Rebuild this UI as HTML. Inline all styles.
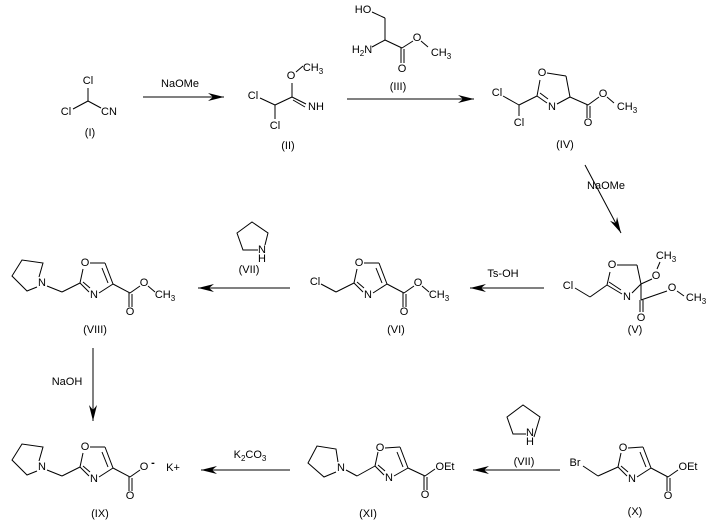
<!DOCTYPE html>
<html><head><meta charset="utf-8"><style>
html,body{margin:0;padding:0;background:#fff;}
svg{display:block;}
text{font-family:"Liberation Sans",sans-serif;font-size:11px;fill:#000;}
line,polyline,polygon.r{stroke:#000;stroke-width:1;fill:none;}
</style></head><body>
<svg width="711" height="529" viewBox="0 0 711 529" xmlns="http://www.w3.org/2000/svg">
<defs>
<marker id="ah" markerUnits="userSpaceOnUse" markerWidth="18" markerHeight="10" refX="16" refY="5" orient="auto">
<path d="M0,1 L16,5 L0,9 L5,5 z" fill="#000"/>
</marker>
</defs>
<g text-anchor="middle" dominant-baseline="central">

<!-- (I) -->
<text x="88" y="81">Cl</text>
<text x="66" y="112">Cl</text>
<text x="109" y="112">CN</text>
<line x1="88" y1="88" x2="88" y2="101"/>
<line x1="88" y1="101" x2="73" y2="109"/>
<line x1="88" y1="101" x2="101" y2="108"/>
<text x="90" y="133">(I)</text>

<!-- arrow 1 -->
<line x1="143" y1="97" x2="224" y2="97" marker-end="url(#ah)"/>
<text x="180" y="84">NaOMe</text>

<!-- (II) -->
<text x="291" y="76">O</text>
<text x="313" y="68">CH<tspan font-size="8" dy="3">3</tspan></text>
<text x="316" y="107">NH</text>
<text x="253" y="96">Cl</text>
<text x="275" y="126">Cl</text>
<line x1="292" y1="83" x2="292" y2="97"/>
<line x1="296" y1="72" x2="303" y2="66"/>
<line x1="292" y1="97" x2="306" y2="104"/>
<line x1="293" y1="100" x2="305" y2="107"/>
<line x1="292" y1="97" x2="275" y2="105"/>
<line x1="275" y1="105" x2="260" y2="98"/>
<line x1="275" y1="105" x2="275" y2="119"/>
<text x="288" y="146">(II)</text>

<!-- (III) -->
<text x="363" y="10">HO</text>
<line x1="372" y1="12" x2="385" y2="18"/>
<line x1="385" y1="18" x2="385" y2="40"/>
<text x="362" y="50">H<tspan font-size="8" dy="3">2</tspan><tspan dy="-3">N</tspan></text>
<line x1="372" y1="47" x2="385" y2="40"/>
<line x1="385" y1="40" x2="402" y2="48"/>
<line x1="401" y1="48" x2="401" y2="63"/>
<line x1="404" y1="49" x2="404" y2="63"/>
<text x="402" y="69">O</text>
<line x1="402" y1="48" x2="413" y2="41"/>
<text x="417" y="38">O</text>
<line x1="421" y1="41" x2="428" y2="47"/>
<text x="441" y="53">CH<tspan font-size="8" dy="3">3</tspan></text>
<text x="398" y="87">(III)</text>

<!-- arrow 2 -->
<line x1="347" y1="99" x2="474" y2="99" marker-end="url(#ah)"/>

<!-- (IV) -->
<text x="497" y="93">Cl</text>
<text x="519" y="123">Cl</text>
<line x1="503" y1="96" x2="519" y2="105"/>
<line x1="519" y1="105" x2="519" y2="116"/>
<line x1="519" y1="105" x2="537" y2="96"/>
<text x="542" y="73">O</text>
<line x1="537" y1="96" x2="540" y2="80"/>
<line x1="547" y1="73" x2="566" y2="76"/>
<line x1="566" y1="76" x2="570" y2="97"/>
<line x1="570" y1="97" x2="557" y2="104"/>
<text x="552" y="107">N</text>
<line x1="547" y1="103" x2="537" y2="96"/>
<line x1="548" y1="99" x2="540" y2="93"/>
<line x1="570" y1="97" x2="588" y2="105"/>
<line x1="587" y1="105" x2="587" y2="118"/>
<line x1="590" y1="106" x2="590" y2="118"/>
<text x="588" y="123">O</text>
<line x1="588" y1="105" x2="599" y2="97"/>
<text x="603" y="94">O</text>
<line x1="607" y1="97" x2="614" y2="103"/>
<text x="627" y="107">CH<tspan font-size="8" dy="3">3</tspan></text>
<text x="565" y="145">(IV)</text>

<!-- arrow 3 -->
<line x1="585" y1="165" x2="621" y2="233" marker-end="url(#ah)"/>
<text x="606" y="186">NaOMe</text>

<!-- (V) -->
<text x="568" y="286">Cl</text>
<line x1="575" y1="288" x2="590" y2="297"/>
<line x1="590" y1="297" x2="607" y2="285"/>
<text x="612" y="265">O</text>
<line x1="607" y1="285" x2="610" y2="272"/>
<line x1="617" y1="265" x2="637" y2="265"/>
<line x1="637" y1="265" x2="641" y2="284"/>
<line x1="641" y1="284" x2="632" y2="293"/>
<text x="627" y="297">N</text>
<line x1="622" y1="294" x2="607" y2="285"/>
<line x1="621" y1="290" x2="609" y2="282"/>
<line x1="641" y1="284" x2="652" y2="279"/>
<text x="656" y="276">O</text>
<line x1="657" y1="269" x2="660" y2="262"/>
<text x="666" y="256">CH<tspan font-size="8" dy="3">3</tspan></text>
<line x1="641" y1="284" x2="641" y2="300"/>
<line x1="640" y1="300" x2="640" y2="312"/>
<line x1="643" y1="300" x2="643" y2="312"/>
<text x="641" y="318">O</text>
<line x1="641" y1="300" x2="667" y2="291"/>
<text x="672" y="288">O</text>
<line x1="677" y1="291" x2="684" y2="296"/>
<text x="696" y="298">CH<tspan font-size="8" dy="3">3</tspan></text>
<text x="635" y="330">(V)</text>

<!-- Ts-OH arrow -->
<line x1="544" y1="288" x2="470" y2="288" marker-end="url(#ah)"/>
<text x="503" y="274">Ts-OH</text>

<!-- (VI) -->
<g transform="translate(354,283)">
<text x="-39" y="-1">Cl</text>
<line x1="-33" y1="1" x2="-18" y2="9"/>
<line x1="-18" y1="9" x2="0" y2="0"/>
<line x1="0" y1="0" x2="3" y2="-14"/>
<text x="5" y="-20">O</text>
<line x1="10" y1="-20" x2="25" y2="-20"/>
<line x1="25" y1="-20" x2="33" y2="1"/>
<line x1="22" y1="-15" x2="28" y2="0"/>
<line x1="33" y1="1" x2="19" y2="10"/>
<text x="14" y="12">N</text>
<line x1="9" y1="9" x2="0" y2="0"/>
<line x1="10" y1="5" x2="3" y2="-1"/>
<line x1="33" y1="1" x2="50" y2="10"/>
<line x1="49" y1="10" x2="49" y2="24"/>
<line x1="52" y1="11" x2="52" y2="24"/>
<text x="50" y="29">O</text>
<line x1="50" y1="10" x2="60" y2="3"/>
<text x="64" y="0">O</text>
<line x1="68" y1="3" x2="75" y2="9"/>
<text x="85" y="12">CH<tspan font-size="8" dy="3">3</tspan></text>
<text x="42" y="47">(VI)</text>
</g>

<!-- (VII) top -->
<polyline points="265,245 268,233 252,222 237,233 243,250 258,250"/>
<text x="262" y="250">N</text>
<text x="262" y="259">H</text>
<text x="249" y="270">(VII)</text>

<!-- arrow VIII -->
<line x1="290" y1="288" x2="198" y2="288" marker-end="url(#ah)"/>

<!-- (VIII) -->
<g transform="translate(80,283)">
<text x="-38" y="0">N</text>
<polyline points="-41,-6 -37,-20 -58,-23 -68,-7 -53,8 -43,4"/>
<line x1="-33" y1="3" x2="-18" y2="9"/>
<line x1="-18" y1="9" x2="0" y2="0"/>
<line x1="0" y1="0" x2="3" y2="-14"/>
<text x="5" y="-20">O</text>
<line x1="10" y1="-20" x2="25" y2="-20"/>
<line x1="25" y1="-20" x2="33" y2="1"/>
<line x1="22" y1="-15" x2="28" y2="0"/>
<line x1="33" y1="1" x2="19" y2="10"/>
<text x="14" y="12">N</text>
<line x1="9" y1="9" x2="0" y2="0"/>
<line x1="10" y1="5" x2="3" y2="-1"/>
<line x1="33" y1="1" x2="50" y2="10"/>
<line x1="49" y1="10" x2="49" y2="24"/>
<line x1="52" y1="11" x2="52" y2="24"/>
<text x="50" y="29">O</text>
<line x1="50" y1="10" x2="60" y2="3"/>
<text x="64" y="0">O</text>
<line x1="68" y1="3" x2="75" y2="9"/>
<text x="85" y="12">CH<tspan font-size="8" dy="3">3</tspan></text>
<text x="15" y="47">(VIII)</text>
</g>

<!-- NaOH arrow -->
<line x1="93" y1="348" x2="93" y2="421" marker-end="url(#ah)"/>
<text x="67" y="382">NaOH</text>

<!-- (IX) -->
<g transform="translate(80,467)">
<text x="-38" y="0">N</text>
<polyline points="-41,-6 -37,-20 -58,-23 -68,-7 -53,8 -43,4"/>
<line x1="-33" y1="3" x2="-18" y2="9"/>
<line x1="-18" y1="9" x2="0" y2="0"/>
<line x1="0" y1="0" x2="3" y2="-14"/>
<text x="5" y="-20">O</text>
<line x1="10" y1="-20" x2="25" y2="-20"/>
<line x1="25" y1="-20" x2="33" y2="1"/>
<line x1="22" y1="-15" x2="28" y2="0"/>
<line x1="33" y1="1" x2="19" y2="10"/>
<text x="14" y="12">N</text>
<line x1="9" y1="9" x2="0" y2="0"/>
<line x1="10" y1="5" x2="3" y2="-1"/>
<line x1="33" y1="1" x2="50" y2="10"/>
<line x1="49" y1="10" x2="49" y2="24"/>
<line x1="52" y1="11" x2="52" y2="24"/>
<text x="50" y="29">O</text>
<line x1="50" y1="10" x2="60" y2="3"/>
<text x="64" y="0">O</text>
<text x="73" y="-4" font-weight="bold">-</text>
<text x="93" y="1">K+</text>
<text x="20" y="47">(IX)</text>
</g>

<!-- K2CO3 arrow -->
<line x1="290" y1="470" x2="201" y2="470" marker-end="url(#ah)"/>
<text x="250" y="455">K<tspan font-size="8" dy="3">2</tspan><tspan dy="-3">CO</tspan><tspan font-size="8" dy="3">3</tspan></text>

<!-- (XI) -->
<g transform="translate(375,466)">
<text x="-34" y="2">N</text>
<polyline points="-37,-4 -39,-17 -58,-20 -67,-3 -51,11 -39,6"/>
<line x1="-29" y1="4" x2="-18" y2="10"/>
<line x1="-18" y1="10" x2="0" y2="0"/>
<line x1="0" y1="0" x2="3" y2="-14"/>
<text x="5" y="-18">O</text>
<line x1="10" y1="-18" x2="25" y2="-19"/>
<line x1="25" y1="-19" x2="33" y2="2"/>
<line x1="22" y1="-14" x2="28" y2="1"/>
<line x1="33" y1="2" x2="19" y2="10"/>
<text x="14" y="12">N</text>
<line x1="9" y1="9" x2="0" y2="0"/>
<line x1="10" y1="5" x2="3" y2="-1"/>
<line x1="33" y1="2" x2="50" y2="10"/>
<line x1="49" y1="10" x2="49" y2="24"/>
<line x1="52" y1="11" x2="52" y2="24"/>
<text x="50" y="29">O</text>
<line x1="50" y1="10" x2="60" y2="3"/>
<text x="70" y="1">OEt</text>
<text x="-7" y="48">(XI)</text>
</g>

<!-- arrow X -> XI -->
<line x1="560" y1="470" x2="473" y2="470" marker-end="url(#ah)"/>

<!-- (VII) bottom -->
<polyline points="534,437 540,417 523,405 507,417 513,434 526,434"/>
<text x="530" y="433">N</text>
<text x="530" y="442">H</text>
<text x="524" y="462">(VII)</text>

<!-- (X) -->
<g transform="translate(618,467)">
<text x="-43" y="-4">Br</text>
<line x1="-35" y1="-1" x2="-20" y2="9"/>
<line x1="-20" y1="9" x2="0" y2="0"/>
<line x1="0" y1="0" x2="3" y2="-14"/>
<text x="5" y="-19">O</text>
<line x1="10" y1="-19" x2="25" y2="-20"/>
<line x1="25" y1="-20" x2="33" y2="1"/>
<line x1="22" y1="-15" x2="28" y2="0"/>
<line x1="33" y1="1" x2="19" y2="10"/>
<text x="14" y="12">N</text>
<line x1="9" y1="9" x2="0" y2="0"/>
<line x1="10" y1="5" x2="3" y2="-1"/>
<line x1="33" y1="1" x2="50" y2="10"/>
<line x1="49" y1="10" x2="49" y2="24"/>
<line x1="52" y1="11" x2="52" y2="24"/>
<text x="50" y="29">O</text>
<line x1="50" y1="10" x2="60" y2="3"/>
<text x="70" y="0">OEt</text>
<text x="17" y="45">(X)</text>
</g>

</g>
</svg>
</body></html>
